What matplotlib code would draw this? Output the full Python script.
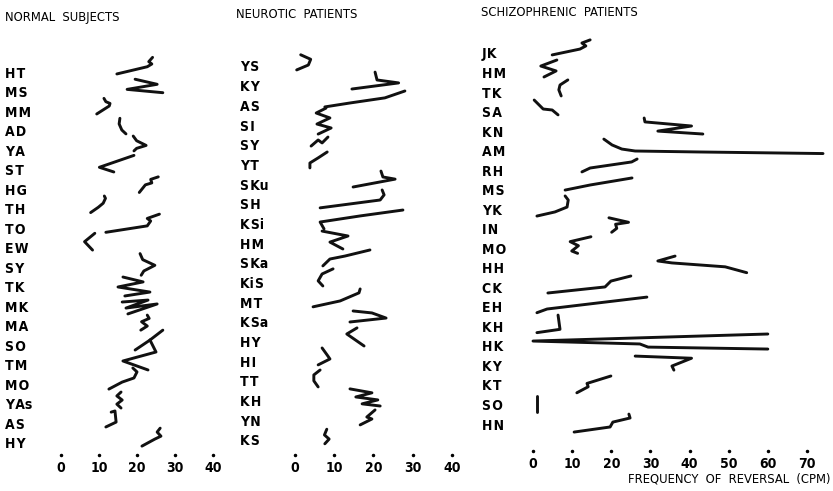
import os
import matplotlib
matplotlib.use("Agg")
import matplotlib.pyplot as plt
from matplotlib import font_manager
from matplotlib.font_manager import FontProperties

# the lettering on the original is tall and condensed: use a narrow face if one is installed
_files = {os.path.basename(f.fname): f.fname for f in font_manager.fontManager.ttflist}


def first_file(names):
    for n in names:
        if n in _files:
            return _files[n]
    return None


bold_file = first_file(["LiberationSansNarrow-Bold.ttf", "DejaVuSansCondensed-Bold.ttf",
                        "NotoSans-CondensedBold.ttf", "RobotoCondensed-Bold.ttf",
                        "OpenSans_Condensed-Bold.ttf", "OpenSans-CondensedBold.ttf"])
reg_file = first_file(["LiberationSansNarrow-Regular.ttf", "DejaVuSansCondensed.ttf",
                       "NotoSans-Condensed.ttf", "RobotoCondensed-Regular.ttf",
                       "OpenSans_Condensed-Regular.ttf", "OpenSans-CondensedRegular.ttf"])

plt.rcParams["font.family"] = ["Liberation Sans", "DejaVu Sans"]
if bold_file:
    LABEL_FP = FontProperties(fname=bold_file, size=10)
else:
    LABEL_FP = FontProperties(family=["Liberation Sans", "DejaVu Sans"], weight="bold", size=9.2)
if reg_file:
    TITLE_FP = FontProperties(fname=reg_file, size=9.3)
else:
    TITLE_FP = FontProperties(family=["Liberation Sans", "DejaVu Sans"], size=8.3)

W, H = 833, 491
TS = "\u200a"  # hair gap between initials

# subject initials, top to bottom
normal_labels = ["HT","MS","MM","AD","YA","ST","HG","TH","TO","EW",
                 "SY","TK","MK","MA","SO","TM","MO","YAs","AS","HY"]
neurotic_labels = ["YS","KY","AS","SI","SY","YT","S Ku","SH","K Si","HM",
                   "S Ka","Ki S","MT","K Sa","HY","HI","TT","KH","YN","KS"]
schizo_labels = ["JK","HM","TK","SA","KN","AM","RH","MS","YK","IN",
                 "MO","HH","CK","EH","KH","HK","KY","KT","SO","HN"]

# reversal frequency (cpm) along each trace, and vertical offset of each point from its row
normal_freq = [
    [14.7,22.7,23.9,23.1,24.1], [19.5,25.3,17.4,26.8], [9.4,12.7,12.9,11.8,11.3],
    [15.5,15.3,16.0,17.1], [19.0,19.9,22.4,19.9,19.2], [19.2,10.1,13.9],
    [20.6,22.2,23.9,23.6,25.6], [7.8,9.8,11.1,11.7,11.4], [11.8,22.7,23.6,22.7,25.9],
    [8.9,6.2,8.3], [20.8,21.5,24.7,21.8,21.1], [16.3,21.6,15.0,23.4,16.8],
    [16.1,22.9,17.1,25.3,17.6], [21.0,22.7,21.2,23.2,22.7], [19.5,23.4,26.8],
    [23.4,25.0,16.3,22.9], [12.6,16.1,19.2,20.0,18.9], [15.8,14.7,16.1,14.7,15.8],
    [13.2,14.2,14.5,11.8], [21.3,24.7,26.3,25.3,26.1],
]
normal_dt = [
    [0.10,-0.27,-0.41,-0.53,-0.75], [-0.63,-0.37,-0.11,0.06], [0.15,-0.26,-0.39,-0.48,-0.65],
    [-0.63,-0.34,-0.03,0.17], [-0.72,-0.48,-0.24,-0.09,0.04], [-0.73,-0.12,0.12],
    [0.17,-0.22,-0.32,-0.50,-0.63], [0.20,-0.07,-0.28,-0.53,-0.65], [0.21,-0.12,-0.37,-0.50,-0.72],
    [-0.74,-0.31,0.12], [-0.70,-0.39,-0.10,0.19,0.41], [-0.50,-0.25,0.01,0.27,0.47],
    [-0.22,-0.32,0.09,-0.12,0.39], [0.22,0.01,-0.21,-0.38,-0.55], [0.24,-0.27,-0.78],
    [-1.28,-0.66,-0.20,0.26], [0.24,-0.12,-0.33,-0.64,-0.84], [-0.61,-0.41,-0.20,0.01,0.21],
    [-0.58,-0.64,-0.07,0.18], [0.16,-0.20,-0.35,-0.56,-0.76],
]

neurotic_freq = [
    [1.45,4.0,3.4,0.43], [20.4,20.9,26.4,14.5], [7.6,14.0,22.9,28.0],
    [7.9,5.4,8.9,5.6,9.2,5.9], [4.1,5.9,6.9,8.4], [8.2,5.9,3.8,3.8],
    [21.9,22.4,25.5,14.8], [6.4,21.7,22.7,22.2], [27.5,16.6,6.4,7.4],
    [6.9,13.5,8.9,12.2], [7.1,8.9,12.7,19.1], [9.7,6.9,5.9,7.1],
    [4.6,11.5,16.3,16.6], [14.8,19.6,23.2,14.0], [15.8,13.2,17.6],
    [6.9,8.2,8.9,5.9], [6.4,4.8,4.8,5.9], [14.0,19.6,15.5,21.1,17.1,21.7],
    [20.4,18.3,19.6,16.6], [8.1,7.5,8.7,7.6],
]
neurotic_dt = [
    [-0.57,-0.34,-0.05,0.20], [-0.69,-0.29,-0.14,0.17], [0.08,-0.12,-0.38,-0.73],
    [-0.86,-0.61,-0.36,-0.05,0.15,0.46], [0.07,-0.24,-0.09,-0.39], [-0.63,-0.33,-0.07,0.18],
    [-0.66,-0.36,-0.25,0.15], [0.21,-0.19,-0.45,-0.70], [-0.68,-0.38,-0.07,0.28],
    [-0.61,-0.36,-0.05,0.30], [0.16,-0.19,-0.34,-0.65], [-0.69,-0.43,-0.08,0.18],
    [0.24,-0.06,-0.47,-0.67], [-0.55,-0.45,-0.19,0.01], [-0.69,-0.38,0.23],
    [-0.67,-0.31,-0.11,0.19], [-0.55,-0.30,0.00,0.31], [-0.59,-0.39,-0.18,-0.03,0.17,0.28],
    [-0.52,-0.16,-0.06,0.24], [-0.54,-0.25,-0.04,0.20],
]

schizo_freq = [
    [4.9,12.0,13.5,12.5,14.6], [6.1,2.0,5.9,2.8], [8.9,6.9,6.6,7.2],
    [0.3,2.6,4.9,6.4], [28.4,28.6,40.5,31.9,43.4], [18.1,20.2,22.7,26.1,42.7,74.1],
    [12.5,14.6,25.2,26.6], [8.2,14.6,25.3], [8.2,9.0,8.7,5.6,1.0],
    [19.4,24.4,21.1,21.4,20.1], [14.8,9.5,11.6,9.9,11.4], [36.3,31.9,35.5,49.1,54.6],
    [3.8,18.4,19.9,25.0], [1.0,3.6,29.1], [6.4,6.9,1.0],
    [60.0,0.0,27.3,29.4,60.0], [26.1,40.5,35.5,36.0], [11.2,14.1,13.8,19.9],
    [1.1,1.1], [10.5,19.7,20.4,24.8,24.5],
]
schizo_dt = [
    [0.10,-0.20,-0.36,-0.51,-0.67], [-0.64,-0.33,-0.08,0.23], [-0.62,-0.36,-0.11,0.20],
    [-0.59,-0.13,-0.08,0.17], [-0.67,-0.47,-0.26,0.00,0.15], [-0.59,-0.29,-0.08,0.02,0.07,0.15],
    [0.09,-0.11,-0.42,-0.57], [0.02,-0.24,-0.60], [-0.68,-0.47,-0.11,0.14,0.35],
    [-0.56,-0.33,-0.23,-0.02,0.18], [-0.59,-0.34,-0.13,0.14,0.26], [-0.60,-0.35,-0.25,-0.05,0.25],
    [0.29,-0.02,-0.32,-0.58], [0.30,0.11,-0.50], [-0.58,0.15,0.32],
    [-0.61,-0.25,-0.10,0.06,0.16], [-0.48,-0.37,0.03,0.24], [0.40,0.09,-0.08,-0.46],
    [-0.44,0.38], [0.41,0.15,-0.10,-0.31,-0.51],
]

normal_ticks = [0, 10, 20, 30, 40]
neurotic_ticks = [0, 10, 20, 30, 40]
schizo_ticks = [0, 10, 20, 30, 40, 50, 60, 70]

fig = plt.figure(figsize=(W/100, H/100), dpi=100)


def spaced(s):
    # "S Ku" -> small gaps between the initials, as lettered on the original
    parts = s.split(" ") if " " in s else [s[0], s[1:]]
    return TS.join(parts)


def panel(box, xlim, ylim, labels, freqs, dts, ticks, label_pad):
    x0, y0, x1, y1 = box  # pixel box
    ax = fig.add_axes([x0/W, 1-y1/H, (x1-x0)/W, (y1-y0)/H])
    for i, (f, d) in enumerate(zip(freqs, dts)):
        ax.plot(f, [i+v for v in d], color="#111111", lw=2.1,
                solid_capstyle="round", solid_joinstyle="round")
    ax.set_xlim(*xlim); ax.set_ylim(*ylim)
    for s in ax.spines.values(): s.set_visible(False)
    ax.set_yticks(range(len(labels)))
    ax.set_yticklabels([spaced(l) for l in labels], fontproperties=LABEL_FP)
    for t in ax.get_yticklabels(): t.set_ha("left")
    ax.tick_params(axis="y", length=0, pad=label_pad)
    ax.set_xticks(ticks)
    ax.set_xticklabels([str(t) for t in ticks], fontproperties=LABEL_FP)
    ax.tick_params(axis="x", length=0, pad=4)
    ax.plot(ticks, [0]*len(ticks), "k.", ms=3, transform=ax.get_xaxis_transform(), clip_on=False)
    return ax


panel((40, 45, 228, 455), (-5.53, 43.95), (19.615, -1.383),
      normal_labels, normal_freq, normal_dt, normal_ticks, 25.2)
panel((270, 45, 460, 455), (-6.37, 42.04), (19.77, -1.067),
      neurotic_labels, neurotic_freq, neurotic_dt, neurotic_ticks, 21.6)
panel((515, 35, 833, 451), (-4.6, 76.65), (20.38, -0.92),
      schizo_labels, schizo_freq, schizo_dt, schizo_ticks, 23.8)

fig.text(5/W, 1-18/H, "NORMAL  SUBJECTS", fontproperties=TITLE_FP, va="center", ha="left")
fig.text(236/W, 1-14/H, "NEUROTIC  PATIENTS", fontproperties=TITLE_FP, va="center", ha="left")
fig.text(481/W, 1-12/H, "SCHIZOPHRENIC  PATIENTS", fontproperties=TITLE_FP, va="center", ha="left")
fig.text(628/W, 1-479/H, "FREQUENCY  OF  REVERSAL  (CPM)", fontproperties=TITLE_FP,
         va="center", ha="left")

fig.savefig("out.png", dpi=100, facecolor="white")
